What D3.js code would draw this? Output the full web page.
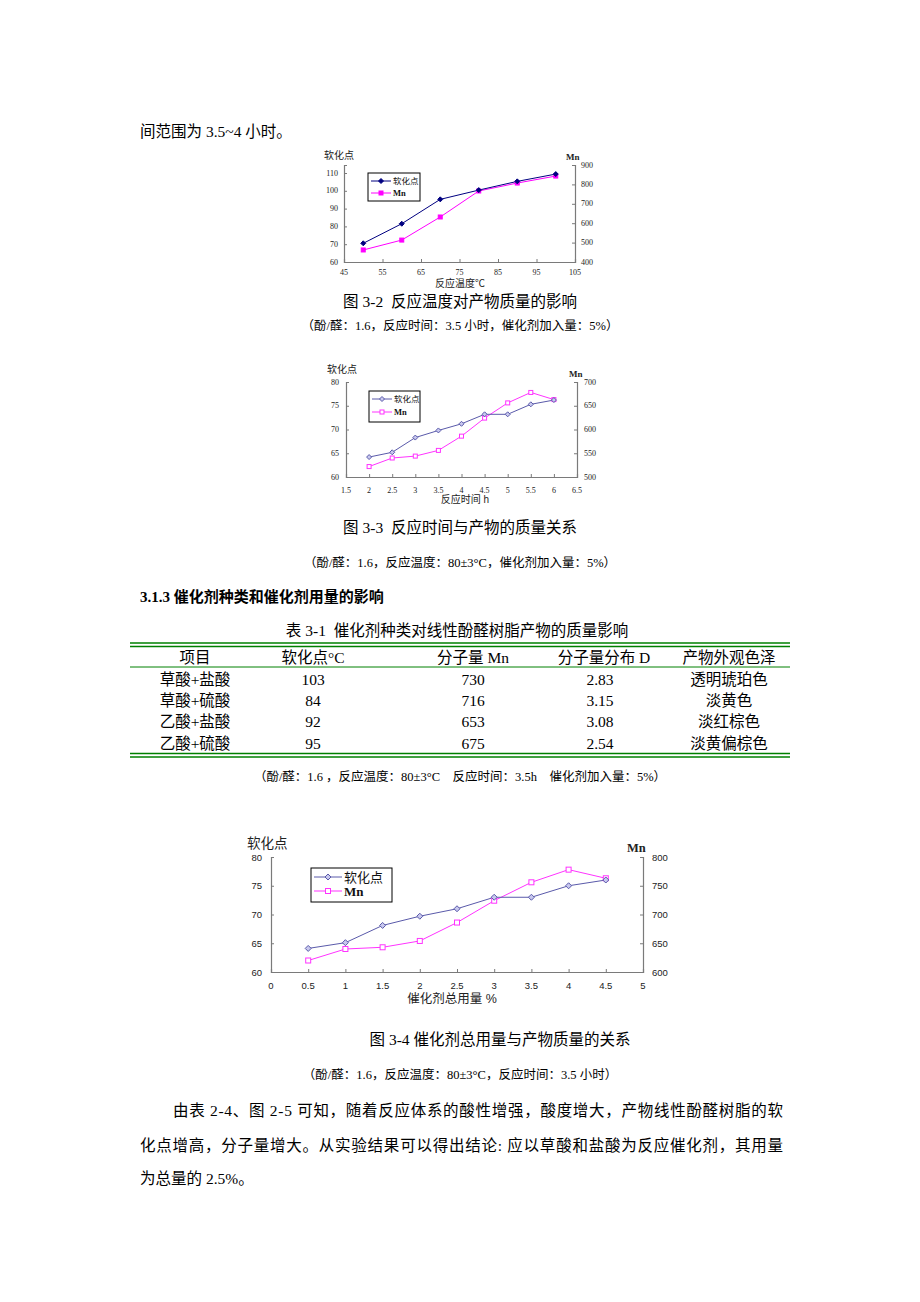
<!DOCTYPE html>
<html>
<head>
<meta charset="utf-8">
<script src="https://cdn.jsdelivr.net/npm/d3@7"></script>
<style>
  body { margin: 0; background: #fff; }
  svg { display: block; }
  text { white-space: pre; }
</style>
</head>
<body>
<svg id="page" width="920" height="1302"></svg>
<script>
// ---- chart data ----
const tempX = [50, 60, 70, 80, 90, 100];
const tempSoft = [70.5, 81.5, 95.2, 100.4, 105.3, 109.4];
const tempMn = [462, 513, 632, 766, 807, 843];

const timeX = [2, 2.5, 3, 3.5, 4, 4.5, 5, 5.5, 6];
const timeSoft = [64.2, 65.2, 68.3, 69.8, 71.2, 73.2, 73.2, 75.3, 76.2];
const timeMn = [522, 540, 544, 556, 586, 624, 656, 678, 663];

const catX = [0.5, 1, 1.5, 2, 2.5, 3, 3.5, 4, 4.5];
const catSoft = [64.1, 65.1, 68.1, 69.7, 71.0, 73.0, 73.0, 75.0, 76.0];
const catMn = [620, 640, 643, 654, 686, 724, 756, 778, 763];

const tempXTicks = [45, 55, 65, 75, 85, 95, 105];
const tempLeftTicks = [60, 70, 80, 90, 100, 110];
const tempRightTicks = [400, 500, 600, 700, 800, 900];
const timeXTicks = [1.5, 2, 2.5, 3, 3.5, 4, 4.5, 5, 5.5, 6, 6.5];
const timeLeftTicks = [60, 65, 70, 75, 80];
const timeRightTicks = [500, 550, 600, 650, 700];
const catXTicks = [0, 0.5, 1, 1.5, 2, 2.5, 3, 3.5, 4, 4.5, 5];
const catLeftTicks = [60, 65, 70, 75, 80];
const catRightTicks = [600, 650, 700, 750, 800];

// ---- table data ----
const tableHead = ["项目", "软化点°C", "分子量 Mn", "分子量分布 D", "产物外观色泽"];
const tableItems = ["草酸+盐酸", "草酸+硫酸", "乙酸+盐酸", "乙酸+硫酸"];
const tableSoft = ["103", "84", "92", "95"];
const tableMn = ["730", "716", "653", "675"];
const tableD = ["2.83", "3.15", "3.08", "2.54"];
const tableColor = ["透明琥珀色", "淡黄色", "淡红棕色", "淡黄偏棕色"];

const serif = "'Liberation Serif','Noto Sans CJK SC',serif";
const sans = "'Liberation Sans','Noto Sans CJK SC',sans-serif";

const svg = d3.select("#page");
svg.append("rect").attr("width", 920).attr("height", 1302).attr("fill", "#fff");

function txt(x, y, s, size, anchor, opts) {
    opts = opts || {};
    const t = svg.append("text")
        .attr("x", x).attr("y", y)
        .attr("font-family", opts.family || serif)
        .attr("font-size", size)
        .attr("text-anchor", anchor || "start")
        .attr("dominant-baseline", "central")
        .attr("fill", "#000")
        .text(s);
    if (opts.bold) t.attr("font-weight", "bold");
    if (opts.len) t.attr("textLength", opts.len).attr("lengthAdjust", "spacing");
    return t;
}

function drawChart(c) {
    const g = svg.append("g");
    const x = d3.scaleLinear().domain(c.xDomain).range([c.left, c.right]);
    const yL = d3.scaleLinear().domain(c.leftDomain).range([c.bottom, c.top]);
    const yR = d3.scaleLinear().domain(c.rightDomain).range([c.bottom, c.top]);

    const axisColor = "#7a7a7a";
    // axes with inward ticks
    const ax = g.append("g").attr("transform", `translate(0,${c.bottom})`)
        .call(d3.axisTop(x).tickValues(c.xTicks).tickSize(3).tickFormat(""));
    const al = g.append("g").attr("transform", `translate(${c.left},0)`)
        .call(d3.axisRight(yL).tickValues(c.leftTicks).tickSize(3).tickFormat(""));
    const ar = g.append("g").attr("transform", `translate(${c.right},0)`)
        .call(d3.axisLeft(yR).tickValues(c.rightTicks).tickSize(3).tickFormat(""));
    [ax, al, ar].forEach(a => {
        a.selectAll("path").attr("stroke", axisColor).attr("stroke-width", 1.2);
        a.selectAll("line").attr("stroke", axisColor);
    });

    // tick labels
    c.xTicks.forEach(v => g.append("text").attr("x", x(v)).attr("y", c.bottom + c.xLabelGap)
        .attr("font-family", c.font).attr("font-size", c.tickSize).attr("text-anchor", "middle")
        .attr("dominant-baseline", "central").attr("fill", "#222").text(v));
    c.leftTicks.forEach(v => g.append("text").attr("x", c.left - c.yLabelGap).attr("y", yL(v))
        .attr("font-family", c.font).attr("font-size", c.tickSize).attr("text-anchor", "end")
        .attr("dominant-baseline", "central").attr("fill", "#222").text(v));
    c.rightTicks.forEach(v => g.append("text").attr("x", c.right + c.yLabelGap).attr("y", yR(v))
        .attr("font-family", c.font).attr("font-size", c.tickSize).attr("text-anchor", "start")
        .attr("dominant-baseline", "central").attr("fill", "#222").text(v));

    // titles
    g.append("text").attr("x", c.leftTitle[0]).attr("y", c.leftTitle[1])
        .attr("font-family", sans).attr("font-size", c.titleSize).attr("dominant-baseline", "central")
        .attr("fill", "#222").text("软化点");
    g.append("text").attr("x", c.rightTitle[0]).attr("y", c.rightTitle[1])
        .attr("font-family", serif).attr("font-size", c.titleSize - 1).attr("font-weight", "bold")
        .attr("dominant-baseline", "central").attr("fill", "#222").text("Mn");
    g.append("text").attr("x", c.xTitle[0]).attr("y", c.xTitle[1])
        .attr("font-family", sans).attr("font-size", c.xTitleSize || c.titleSize).attr("text-anchor", "middle")
        .attr("dominant-baseline", "central").attr("fill", "#222").text(c.xTitleText);

    const line = (ys) => d3.line().x((d, i) => x(c.xs[i])).y(d => ys(d));

    // Mn series
    g.append("path").datum(c.mn).attr("fill", "none").attr("stroke", c.mnColor)
        .attr("stroke-width", 1).attr("d", line(yR));
    // softening point series
    g.append("path").datum(c.soft).attr("fill", "none").attr("stroke", c.softColor)
        .attr("stroke-width", 1).attr("d", line(yL));

    const sq = c.markerSize;
    function square(sel, cx, cy) {
        sel.append("rect").attr("x", cx - sq / 2).attr("y", cy - sq / 2).attr("width", sq).attr("height", sq)
            .attr("fill", c.filled ? c.mnColor : "#fff").attr("stroke", c.mnColor).attr("stroke-width", 1);
    }
    function diamond(sel, cx, cy) {
        const r = sq / 2 + 0.5;
        sel.append("path").attr("d", `M${cx},${cy - r}L${cx + r},${cy}L${cx},${cy + r}L${cx - r},${cy}Z`)
            .attr("fill", c.filled ? c.softColor : "#c8c8ee").attr("stroke", c.softColor).attr("stroke-width", 1);
    }
    c.mn.forEach((d, i) => square(g, x(c.xs[i]), yR(d)));
    c.soft.forEach((d, i) => diamond(g, x(c.xs[i]), yL(d)));

    // legend
    const L = c.legend;
    g.append("rect").attr("x", L.x).attr("y", L.y).attr("width", L.w).attr("height", L.h)
        .attr("fill", "#fff").attr("stroke", "#000").attr("stroke-width", 1);
    const rows = [
        { name: "软化点", color: c.softColor, mark: diamond, family: sans },
        { name: "Mn", color: c.mnColor, mark: square, family: serif }
    ];
    rows.forEach((r, i) => {
        const yy = L.y + L.rowY[i];
        g.append("line").attr("x1", L.x + 3).attr("x2", L.x + 3 + L.lineLen)
            .attr("y1", yy).attr("y2", yy).attr("stroke", r.color).attr("stroke-width", 1);
        r.mark(g, L.x + 3 + L.lineLen / 2, yy);
        g.append("text").attr("x", L.x + 5 + L.lineLen).attr("y", yy)
            .attr("font-family", r.family).attr("font-size", L.size)
            .attr("font-weight", i === 1 ? "bold" : "normal")
            .attr("dominant-baseline", "central").attr("fill", "#111").text(r.name);
    });
}

// ---- page text ----
txt(140, 131, "间范围为 3.5~4 小时。", 15.5);

drawChart({
    xs: tempX, soft: tempSoft, mn: tempMn,
    xDomain: [45, 105], leftDomain: [60, 114.5], rightDomain: [400, 900],
    xTicks: tempXTicks, leftTicks: tempLeftTicks, rightTicks: tempRightTicks,
    left: 344, right: 575, top: 165, bottom: 262,
    font: serif, tickSize: 8, titleSize: 10, xLabelGap: 10, yLabelGap: 6,
    leftTitle: [324, 155], rightTitle: [566, 157], xTitle: [460, 283], xTitleText: "反应温度℃",
    softColor: "#000080", mnColor: "#ff00ff", filled: true, markerSize: 4,
    legend: { x: 368, y: 173, w: 52, h: 28, rowY: [8, 20], lineLen: 20, size: 8.5 }
});
txt(460, 301, "图 3-2  反应温度对产物质量的影响", 15.5, "middle");
txt(460, 326, "（酚/醛：1.6，反应时间：3.5 小时，催化剂加入量：5%）", 12.5, "middle");

drawChart({
    xs: timeX, soft: timeSoft, mn: timeMn,
    xDomain: [1.5, 6.5], leftDomain: [60, 80], rightDomain: [500, 700],
    xTicks: timeXTicks, leftTicks: timeLeftTicks, rightTicks: timeRightTicks,
    left: 346, right: 577, top: 382, bottom: 477,
    font: serif, tickSize: 8, titleSize: 10, xLabelGap: 13, yLabelGap: 7,
    leftTitle: [327, 369], rightTitle: [569, 374], xTitle: [465, 499], xTitleText: "反应时间 h",
    softColor: "#5a5aaa", mnColor: "#ff33ff", filled: false, markerSize: 4,
    legend: { x: 369, y: 391, w: 51, h: 31, rowY: [8, 21], lineLen: 20, size: 8.5 }
});
txt(460, 527, "图 3-3  反应时间与产物的质量关系", 15.5, "middle");
txt(460, 563, "（酚/醛：1.6，反应温度：80±3°C，催化剂加入量：5%）", 12.5, "middle");

txt(140, 597, "3.1.3 催化剂种类和催化剂用量的影响", 15, "start", { bold: true });

// ---- table ----
txt(457, 630, "表 3-1  催化剂种类对线性酚醛树脂产物的质量影响", 15.5, "middle");
const green = "#008000";
const tX0 = 130, tX1 = 790;
[643, 646.5, 753.5, 757].forEach(y => svg.append("line").attr("x1", tX0).attr("x2", tX1)
    .attr("y1", y).attr("y2", y).attr("stroke", green).attr("stroke-width", 1.6));
svg.append("line").attr("x1", tX0).attr("x2", tX1).attr("y1", 667).attr("y2", 667)
    .attr("stroke", green).attr("stroke-width", 1);
const colX = [195, 313, 473, 604, 729];
tableHead.forEach((h, i) => txt(colX[i], 657, h, 15.5, "middle"));
const rowY = [679, 700, 721, 743];
tableItems.forEach((name, r) => {
    [name, tableSoft[r], tableMn[r], tableD[r], tableColor[r]].forEach((v, i) =>
        txt(i === 3 ? 600 : colX[i], rowY[r], v, 15.5, "middle"));
});
txt(460, 777, "（酚/醛：1.6 ，反应温度：80±3°C    反应时间：3.5h    催化剂加入量：5%）", 12.5, "middle");

drawChart({
    xs: catX, soft: catSoft, mn: catMn,
    xDomain: [0, 5], leftDomain: [60, 80], rightDomain: [600, 800],
    xTicks: catXTicks, leftTicks: catLeftTicks, rightTicks: catRightTicks,
    left: 271, right: 643, top: 857, bottom: 972,
    font: sans, tickSize: 9.5, titleSize: 13.5, xTitleSize: 12.5, xLabelGap: 13, yLabelGap: 9,
    leftTitle: [247, 843], rightTitle: [627, 848], xTitle: [452, 999], xTitleText: "催化剂总用量 %",
    softColor: "#5a5aaa", mnColor: "#ff33ff", filled: false, markerSize: 5,
    legend: { x: 311, y: 868, w: 81, h: 34, rowY: [9, 23], lineLen: 28, size: 13 }
});
txt(500, 1039, "图 3-4 催化剂总用量与产物质量的关系", 15.5, "middle");
txt(460, 1075, "（酚/醛：1.6，反应温度：80±3°C，反应时间：3.5 小时）", 12.5, "middle");

// ---- paragraph ----
txt(173, 1110, "由表 2-4、图 2-5 可知，随着反应体系的酸性增强，酸度增大，产物线性酚醛树脂的软", 15.5, "start", { len: 610 });
txt(140, 1145, "化点增高，分子量增大。从实验结果可以得出结论: 应以草酸和盐酸为反应催化剂，其用量", 15.5, "start", { len: 643 });
txt(140, 1178, "为总量的 2.5%。", 15.5);
</script>
</body>
</html>
